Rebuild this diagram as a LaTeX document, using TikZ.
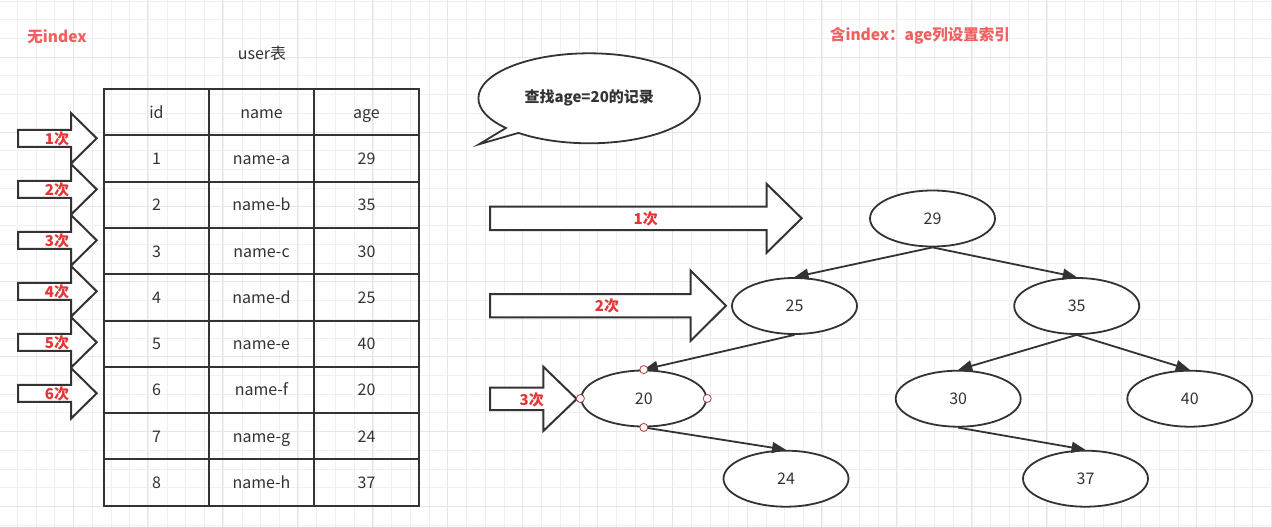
\documentclass[tikz,border=0pt]{standalone}
\usepackage{fontspec}
\setmainfont{Noto Sans CJK SC}
\usetikzlibrary{shapes.geometric,shapes.callouts,arrows.meta}
\definecolor{ink}{HTML}{333333}
\definecolor{titlered}{RGB}{240,96,96}
\definecolor{labelred}{RGB}{228,54,54}
\definecolor{gridminor}{HTML}{F0F0F0}
\definecolor{gridmajor}{HTML}{E6E6E6}
\definecolor{handle}{RGB}{170,60,60}
\tikzset{
  cell/.style={draw=ink, line width=2pt, minimum width=105pt, minimum height=46.3pt, inner sep=0pt, text=ink, text height=13pt, text depth=1pt},
  treenode/.style={ellipse, draw=ink, line width=1.8pt, fill=white, minimum width=125pt, minimum height=56pt, inner sep=0pt, text=ink, text height=12.5pt, text depth=1pt},
  blockarrow/.style={draw=ink, line width=2pt, fill=white, line join=miter},
  hitlabel/.style={text=labelred, font=\fontsize{15}{18}\selectfont\bfseries, inner sep=0pt},
  titletext/.style={text=titlered, font=\fontsize{15.5}{18}\selectfont\bfseries, inner sep=0pt},
  edge/.style={draw=ink, line width=1.8pt, -{Triangle[length=14pt,width=11pt]}},
  handlept/.style={circle, draw=handle, line width=0.8pt, fill=white, inner sep=0pt, minimum size=8pt}
}
\begin{document}
\begin{tikzpicture}[x=1pt,y=-1pt, font=\fontsize{16}{19}\selectfont]
\useasboundingbox (0,0) rectangle (1272,527);
\fill[white] (0,0) rectangle (1272,527);
% grid
\foreach \i in {0,...,67} {
  \draw[gridminor, line width=0.8pt] ({17.3+18.72*\i},0) -- ++(0,527);
}
\foreach \i in {0,...,28} {
  \draw[gridminor, line width=0.8pt] (0,{0.94+18.72*\i}) -- ++(1272,0);
}
\foreach \i in {0,...,16} {
  \draw[gridmajor, line width=0.8pt] ({73+74.88*\i},0) -- ++(0,527);
}
\foreach \i in {0,...,7} {
  \draw[gridmajor, line width=0.8pt] (0,{57.1+74.88*\i}) -- ++(1272,0);
}

% titles
\node[titletext] (t1) at (57,37) {无index};
\node[titletext] (t2) at (920,36) {含index：age列设置索引};
\node[text=ink, inner sep=0pt] (t0) at (262,53) {user表};

% table
\foreach \r/\a/\b/\c in {0/id/name/age, 1/1/name-a/29, 2/2/name-b/35, 3/3/name-c/30, 4/4/name-d/25, 5/5/name-e/40, 6/6/name-f/20, 7/7/name-g/24, 8/8/name-h/37} {
  \node[cell] (c\r-1) at (156.5,{89+46.3*(\r+0.5)}) {\a};
  \node[cell] (c\r-2) at (261.5,{89+46.3*(\r+0.5)}) {\b};
  \node[cell] (c\r-3) at (366.5,{89+46.3*(\r+0.5)}) {\c};
}

% left scan arrows
\foreach \i in {1,...,6} {
  \pgfmathsetmacro\cy{138.3+51*(\i-1)}
  \draw[blockarrow] (18,\cy-8.5) -- (71,\cy-8.5) -- (71,\cy-25.3) -- (96.7,\cy) -- (71,\cy+25.3) -- (71,\cy+8.5) -- (18,\cy+8.5) -- cycle;
  \node[hitlabel] (L\i) at (57,\cy+1) {\i{}次};
}

% callout
\node[ellipse callout, draw=ink, line width=1.8pt, fill=white, minimum width=221.6pt, minimum height=90pt,
      callout absolute pointer={(479,144.3)}, callout pointer arc=9, text=ink,
      font=\fontsize{15}{18}\selectfont\bfseries] (bubble) at (589.2,98.3) {查找age=20的记录};

% right arrows
\draw[blockarrow] (490,206.7) -- (766.7,206.7) -- (766.7,184) -- (801.7,218.3) -- (766.7,252.7) -- (766.7,230) -- (490,230) -- cycle;
\node[hitlabel] (R1) at (645.7,219.3) {1次};
\draw[blockarrow] (490,294) -- (690.7,294) -- (690.7,270.7) -- (726,305.7) -- (690.7,340.7) -- (690.7,317.3) -- (490,317.3) -- cycle;
\node[hitlabel] (R2) at (607,306) {2次};
\draw[blockarrow] (490,387.7) -- (543.3,387.7) -- (543.3,366.7) -- (576.7,399) -- (543.3,431) -- (543.3,410) -- (490,410) -- cycle;
\node[hitlabel] (R3) at (531.7,399.5) {3次};

% tree
\node[treenode] (n29) at (932.5,218.5) {29};
\node[treenode] (n25) at (794.5,306) {25};
\node[treenode] (n35) at (1076.7,306) {35};
\node[treenode] (n20) at (643.8,398.5) {20};
\node[treenode] (n30) at (958.2,398.7) {30};
\node[treenode] (n40) at (1189.8,398.7) {40};
\node[treenode] (n24) at (786,478.7) {24};
\node[treenode] (n37) at (1085.5,478.7) {37};

\draw[edge] (n29.south) -- (n25.north);
\draw[edge] (n29.south) -- (n35.north);
\draw[edge] (n25.south) -- (n20.north);
\draw[edge] (n20.south) -- (n24.north);
\draw[edge] (n35.south) -- (n30.north);
\draw[edge] (n35.south) -- (n40.north);
\draw[edge] (n30.south) -- (n37.north);

\node[handlept] (h1) at (n20.north) {};
\node[handlept] (h2) at (n20.south) {};
\node[handlept] (h3) at (n20.east) {};
\node[handlept] (h4) at (n20.west) {};
\end{tikzpicture}
\end{document}
